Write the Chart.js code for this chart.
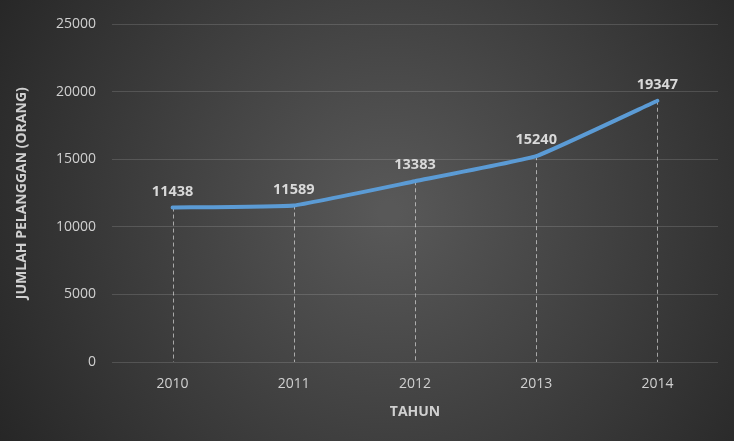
<!DOCTYPE html>
<html>
<head>
<meta charset="utf-8">
<script src="https://cdn.jsdelivr.net/npm/chart.js@4.4.0/dist/chart.umd.min.js"></script>
<style>
  html, body { margin: 0; padding: 0; background: #2b2b2b; }
  #wrap { width: 734px; height: 441px; position: relative; }
</style>
</head>
<body>
<div id="wrap"><canvas id="mychart1"></canvas></div>
<script>
var tahun = ['2010', '2011', '2012', '2013', '2014'];
var pelanggan = [11438, 11589, 13383, 15240, 19347];
var yTicks = [0, 5000, 10000, 15000, 20000, 25000];

var fontFam = "'Open Sans', Lato, sans-serif";

// dark radial background behind everything
var bgPlugin = {
  id: 'bg',
  beforeDraw: function(chart){
    var ctx = chart.ctx, w = chart.width, h = chart.height;
    ctx.save();
    var g = ctx.createRadialGradient(w*0.53, h*0.48, 10, w*0.53, h*0.48, w*0.62);
    g.addColorStop(0, '#585858');
    g.addColorStop(1, '#262626');
    ctx.fillStyle = g;
    ctx.fillRect(0, 0, w, h);
    ctx.restore();
  }
};

// dashed drop lines from each point down to the x axis
var dropLines = {
  id: 'dropLines',
  beforeDatasetsDraw: function(chart){
    var ctx = chart.ctx;
    var meta = chart.getDatasetMeta(0);
    var bottom = chart.scales.y.bottom;
    ctx.save();
    ctx.strokeStyle = 'rgba(255,255,255,0.55)';
    ctx.lineWidth = 1;
    ctx.setLineDash([4, 3]);
    meta.data.forEach(function(pt){
      ctx.beginPath();
      ctx.moveTo(Math.round(pt.x) + 0.5, pt.y);
      ctx.lineTo(Math.round(pt.x) + 0.5, bottom);
      ctx.stroke();
    });
    ctx.restore();
  }
};

// value labels above the points
var valueLabels = {
  id: 'valueLabels',
  afterDatasetsDraw: function(chart){
    var ctx = chart.ctx;
    var meta = chart.getDatasetMeta(0);
    ctx.save();
    ctx.font = 'bold 14.5px ' + fontFam;
    ctx.fillStyle = '#d9d9d9';
    ctx.textAlign = 'center';
    ctx.textBaseline = 'middle';
    meta.data.forEach(function(pt, i){
      ctx.fillText(String(pelanggan[i]), pt.x, pt.y - 16);
    });
    ctx.restore();
  }
};

var ctx = document.getElementById('mychart1').getContext('2d');
var mychart = new Chart(ctx, {
  type: 'line',
  data: {
    labels: tahun,
    datasets: [{
      label: 'Jumlah Pelanggan',
      data: pelanggan,
      borderColor: '#5b9bd5',
      borderWidth: 4,
      pointRadius: 0,
      tension: 0.1,
      borderCapStyle: 'round',
      borderJoinStyle: 'round',
      fill: false
    }]
  },
  options: {
    responsive: true,
    maintainAspectRatio: false,
    animation: false,
    layout: { padding: { left: 10, right: 16, top: 23, bottom: 0 } },
    plugins: {
      legend: { display: false },
      tooltip: { enabled: false }
    },
    scales: {
      x: {
        offset: true,
        grid: { display: false },
        border: { display: false },
        ticks: { color: '#d0d0d0', font: { family: fontFam, size: 14 }, padding: 6 },
        title: {
          display: true, text: 'TAHUN', color: '#d0d0d0',
          font: { family: fontFam, size: 14, weight: 'bold' }, padding: { top: 4, bottom: 21 }
        },
        afterFit: function(s){ s.height = 79; }
      },
      y: {
        min: 0, max: 25000,
        afterBuildTicks: function(s){ s.ticks = yTicks.map(function(v){ return { value: v }; }); },
        grid: { color: 'rgba(255,255,255,0.14)', drawTicks: false },
        border: { display: false },
        ticks: {
          color: '#d0d0d0', font: { family: fontFam, size: 14 }, padding: 16,
          callback: function(v){ return String(v); }
        },
        title: {
          display: true, text: 'JUMLAH PELANGGAN (ORANG)', color: '#d0d0d0',
          font: { family: fontFam, size: 14, weight: 'bold' }, padding: { bottom: 4 }
        },
        afterFit: function(s){ s.width = 102; }
      }
    }
  },
  plugins: [bgPlugin, dropLines, valueLabels]
});
</script>
</body>
</html>
